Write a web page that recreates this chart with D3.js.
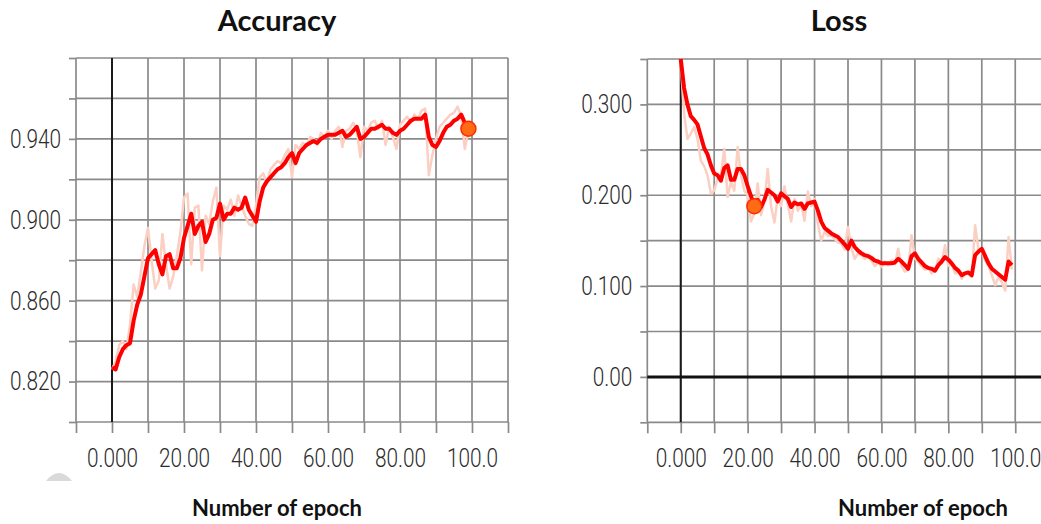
<!DOCTYPE html>
<html>
<head>
<meta charset="utf-8">
<script src="https://cdn.jsdelivr.net/npm/d3@7/dist/d3.min.js"></script>
<style>
  body { margin: 0; background: #fff; }
  svg { display: block; }
</style>
</head>
<body>
<svg width="1041" height="524"></svg>
<script>
const width = 1041;
const height = 524;

// x axis (epochs)
const xTicks = [-10, 0, 10, 20, 30, 40, 50, 60, 70, 80, 90, 100, 110];
const xLabelVals = [0, 20, 40, 60, 80, 100];
const xLabelText = ["0.000", "20.00", "40.00", "60.00", "80.00", "100.0"];

// Accuracy panel
const accYTicks = [0.80, 0.82, 0.84, 0.86, 0.88, 0.90, 0.92, 0.94, 0.96, 0.98];
const accLabelVals = [0.82, 0.86, 0.90, 0.94];
const accLabelText = ["0.820", "0.860", "0.900", "0.940"];

// one value per epoch (index = epoch)
const accRaw = [
  0.826, 0.830, 0.838, 0.840, 0.836, 0.848, 0.868, 0.862, 0.874, 0.887,
  0.896, 0.880, 0.866, 0.870, 0.893, 0.878, 0.866, 0.872, 0.882, 0.894,
  0.911, 0.913, 0.878, 0.906, 0.907, 0.875, 0.902, 0.898, 0.909, 0.916,
  0.882, 0.907, 0.905, 0.910, 0.902, 0.912, 0.907, 0.902, 0.898, 0.897,
  0.907, 0.921, 0.923, 0.918, 0.925, 0.927, 0.929, 0.928, 0.932, 0.935,
  0.921, 0.937, 0.935, 0.938, 0.936, 0.941, 0.940, 0.937, 0.943, 0.941,
  0.944, 0.940, 0.944, 0.946, 0.936, 0.944, 0.945, 0.948, 0.944, 0.931,
  0.946, 0.944, 0.948, 0.949, 0.945, 0.949, 0.937, 0.946, 0.941, 0.935,
  0.947, 0.949, 0.951, 0.948, 0.952, 0.950, 0.954, 0.955, 0.922, 0.932,
  0.940, 0.946, 0.948, 0.950, 0.952, 0.953, 0.956, 0.951, 0.935, 0.944
];
const accSmooth = [
  0.827, 0.826, 0.832, 0.836, 0.838, 0.839, 0.850, 0.858, 0.863, 0.872,
  0.881, 0.883, 0.885, 0.878, 0.873, 0.882, 0.883, 0.876, 0.876, 0.881,
  0.891, 0.897, 0.903, 0.893, 0.897, 0.899, 0.889, 0.893, 0.900, 0.901,
  0.908, 0.900, 0.903, 0.903, 0.906, 0.905, 0.906, 0.911, 0.905, 0.902,
  0.899, 0.909, 0.916, 0.919, 0.921, 0.923, 0.925, 0.926, 0.928, 0.931,
  0.933, 0.928, 0.933, 0.935, 0.937, 0.938, 0.939, 0.938, 0.940, 0.941,
  0.942, 0.942, 0.942, 0.943, 0.944, 0.941, 0.942, 0.944, 0.946, 0.940,
  0.941, 0.943, 0.945, 0.945, 0.946, 0.947, 0.945, 0.945, 0.943, 0.942,
  0.944, 0.945, 0.947, 0.949, 0.950, 0.950, 0.950, 0.952, 0.941, 0.937,
  0.936, 0.939, 0.943, 0.946, 0.947, 0.949, 0.950, 0.952, 0.948, 0.945
];
const accDot = [99, 0.945];

// Loss panel
const lossYTicks = [-0.05, 0, 0.05, 0.10, 0.15, 0.20, 0.25, 0.30, 0.35];
const lossLabelVals = [0, 0.10, 0.20, 0.30];
const lossLabelText = ["0.00", "0.100", "0.200", "0.300"];

const lossRaw = [
  0.345, 0.290, 0.262, 0.268, 0.275, 0.262, 0.238, 0.232, 0.222, 0.202,
  0.205, 0.218, 0.222, 0.251, 0.198, 0.215, 0.205, 0.253, 0.222, 0.205,
  0.200, 0.171, 0.180, 0.213, 0.178, 0.193, 0.229, 0.188, 0.170, 0.198,
  0.188, 0.210, 0.190, 0.171, 0.196, 0.183, 0.190, 0.172, 0.204, 0.188,
  0.196, 0.168, 0.150, 0.160, 0.155, 0.156, 0.152, 0.148, 0.147, 0.140,
  0.165, 0.142, 0.130, 0.136, 0.134, 0.130, 0.132, 0.128, 0.122, 0.126,
  0.121, 0.127, 0.123, 0.128, 0.124, 0.141, 0.122, 0.116, 0.118, 0.156,
  0.130, 0.127, 0.122, 0.118, 0.120, 0.114, 0.117, 0.130, 0.125, 0.145,
  0.122, 0.124, 0.114, 0.116, 0.108, 0.115, 0.113, 0.110, 0.167, 0.140,
  0.138, 0.128, 0.122, 0.112, 0.101, 0.110, 0.104, 0.095, 0.154, 0.118
];
const lossSmooth = [
  0.350, 0.318, 0.300, 0.287, 0.283, 0.278, 0.265, 0.252, 0.245, 0.233,
  0.224, 0.222, 0.216, 0.230, 0.233, 0.217, 0.217, 0.229, 0.229, 0.222,
  0.210, 0.199, 0.188, 0.195, 0.187, 0.195, 0.206, 0.203, 0.200, 0.193,
  0.202, 0.199, 0.196, 0.187, 0.192, 0.190, 0.191, 0.185, 0.191, 0.192,
  0.193, 0.183, 0.171, 0.164, 0.161, 0.158, 0.156, 0.154, 0.150, 0.146,
  0.141, 0.150, 0.143, 0.139, 0.136, 0.134, 0.133, 0.131, 0.128, 0.127,
  0.125, 0.125, 0.125, 0.125, 0.126, 0.130, 0.127, 0.123, 0.119, 0.133,
  0.136, 0.130, 0.126, 0.122, 0.120, 0.119, 0.117, 0.123, 0.127, 0.132,
  0.129, 0.125, 0.120, 0.117, 0.112, 0.114, 0.115, 0.112, 0.134, 0.138,
  0.141, 0.133, 0.125, 0.119, 0.116, 0.113, 0.110, 0.107, 0.127, 0.123
];
const lossDot = [22, 0.188];

const gridColor = "#8a8a8a";
const labelScale = 0.8;   // squeeze tick labels to a condensed look

const svg = d3.select("svg");

function drawPanel(p) {
    const x = d3.scaleLinear().domain([-10, 110]).range(p.xRange);
    const y = d3.scaleLinear().domain(p.yDomain).range(p.yRange);
    const g = svg.append("g");
    const top = p.yRange[1], bottom = p.yRange[0];
    const left = p.xRange[0], right = p.xRange[1];

    // grid
    g.selectAll(".hgrid")
        .data(p.yTicks)
        .enter().append("line")
        .attr("x1", left).attr("x2", right)
        .attr("y1", d => y(d)).attr("y2", d => y(d))
        .attr("stroke", gridColor)
        .attr("stroke-width", 1.7);

    g.selectAll(".vgrid")
        .data(xTicks)
        .enter().append("line")
        .attr("x1", d => x(d)).attr("x2", d => x(d))
        .attr("y1", top).attr("y2", bottom)
        .attr("stroke", gridColor)
        .attr("stroke-width", 1.7);

    // y axis ticks + labels
    const yLabel = d => {
        const i = p.labelVals.findIndex(v => Math.abs(v - d) < 1e-9);
        return i < 0 ? "" : p.labelText[i];
    };
    g.append("g")
        .attr("transform", `translate(${left},0)`)
        .call(d3.axisLeft(y).tickValues(p.yTicks).tickSize(7).tickFormat(yLabel))
        .call(a => a.select(".domain").remove())
        .call(a => a.selectAll("line").attr("stroke", gridColor).attr("stroke-width", 1.7))
        .call(a => a.selectAll("text")
            .attr("x", -15 / labelScale)
            .attr("transform", `scale(${labelScale},1)`)
            .attr("fill", "#2b2b2b")
            .attr("font-family", "Roboto, 'Liberation Sans', sans-serif")
            .attr("font-weight", 300)
            .attr("font-size", "26px"));

    // x axis ticks + labels
    const xLabel = d => {
        const i = xLabelVals.indexOf(d);
        return i < 0 ? "" : xLabelText[i];
    };
    g.append("g")
        .attr("transform", `translate(0,${bottom})`)
        .call(d3.axisBottom(x).tickValues(xTicks).tickSize(11).tickFormat(xLabel))
        .call(a => a.select(".domain").remove())
        .call(a => a.selectAll("line").attr("stroke", gridColor).attr("stroke-width", 1.7))
        .call(a => a.selectAll("text")
            .attr("y", 36)
            .attr("dy", "0.35em")
            .attr("transform", `scale(${labelScale},1)`)
            .attr("fill", "#2b2b2b")
            .attr("font-family", "Roboto, 'Liberation Sans', sans-serif")
            .attr("font-weight", 300)
            .attr("font-size", "26px"));

    // zero lines
    g.append("line")
        .attr("x1", x(0)).attr("x2", x(0))
        .attr("y1", top).attr("y2", bottom)
        .attr("stroke", "#1a1a1a")
        .attr("stroke-width", 2);

    if (p.zeroLine) {
        g.append("line")
            .attr("x1", left).attr("x2", right)
            .attr("y1", y(0)).attr("y2", y(0))
            .attr("stroke", "#111")
            .attr("stroke-width", 3);
    }

    // series
    const line = d3.line()
        .x((d, i) => x(i))
        .y(d => y(d));

    g.append("path")
        .attr("d", line(p.raw))
        .attr("fill", "none")
        .attr("stroke", "#fbcfc2")
        .attr("stroke-width", 2.5)
        .attr("stroke-linejoin", "round");

    g.append("path")
        .attr("d", line(p.smooth))
        .attr("fill", "none")
        .attr("stroke", "#ff0000")
        .attr("stroke-width", 4)
        .attr("stroke-linejoin", "round");

    g.append("circle")
        .attr("cx", x(p.dot[0]))
        .attr("cy", y(p.dot[1]))
        .attr("r", 7.5)
        .attr("fill", "#ff6a14")
        .attr("stroke", "#ff2a00")
        .attr("stroke-width", 1.5);

    // title and x label
    svg.append("text")
        .attr("x", p.titleX)
        .attr("y", 31)
        .attr("text-anchor", "middle")
        .attr("font-family", "Lato, 'Open Sans', sans-serif")
        .attr("font-weight", "bold")
        .attr("font-size", "29px")
        .attr("fill", "#111")
        .text(p.title);

    svg.append("text")
        .attr("x", p.xLabelX)
        .attr("y", 516)
        .attr("text-anchor", "middle")
        .attr("font-family", "Lato, 'Open Sans', sans-serif")
        .attr("font-weight", "bold")
        .attr("font-size", "22px")
        .attr("fill", "#111")
        .text("Number of epoch");
}

drawPanel({
    xRange: [76, 508],
    yDomain: [0.80, 0.98],
    yRange: [422, 58],
    yTicks: accYTicks,
    labelVals: accLabelVals,
    labelText: accLabelText,
    raw: accRaw,
    smooth: accSmooth,
    dot: accDot,
    zeroLine: false,
    title: "Accuracy",
    titleX: 277,
    xLabelX: 277
});

drawPanel({
    xRange: [647.3, 1048.7],
    yDomain: [-0.05, 0.35],
    yRange: [422.3, 59],
    yTicks: lossYTicks,
    labelVals: lossLabelVals,
    labelText: lossLabelText,
    raw: lossRaw,
    smooth: lossSmooth,
    dot: lossDot,
    zeroLine: true,
    title: "Loss",
    titleX: 839,
    xLabelX: 923
});

// faint grey smudge at the lower left of the original image
svg.append("path")
    .attr("d", "M46,481 Q59,465 72,481 Z")
    .attr("fill", "#d9d9d9");
</script>
</body>
</html>
